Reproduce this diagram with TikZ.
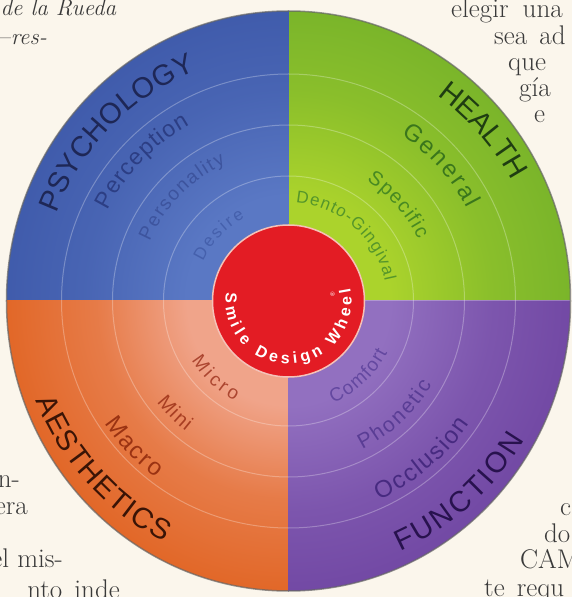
\documentclass[tikz,border=0pt]{standalone}
\usepackage{fontspec}
\setsansfont{Liberation Sans}
\usetikzlibrary{decorations.text}

\definecolor{paper}{HTML}{FBF6EC}
\definecolor{ink}{HTML}{3A3A3A}
\definecolor{bluein}{HTML}{5A78C4}
\definecolor{blueout}{HTML}{3A55A6}
\definecolor{greenin}{HTML}{ABD32C}
\definecolor{greenout}{HTML}{6FAE2A}
\definecolor{orangein}{HTML}{F0A48A}
\definecolor{orangeout}{HTML}{E0601C}
\definecolor{purplein}{HTML}{9270C0}
\definecolor{purpleout}{HTML}{6B409E}
\colorlet{bluemid}{bluein!45!blueout}
\colorlet{greenmid}{greenin!45!greenout}
\colorlet{orangemid}{orangein!40!orangeout}
\colorlet{purplemid}{purplein!45!purpleout}
\definecolor{hubred}{HTML}{E31C24}
\definecolor{hubrim}{HTML}{F5C2B8}
\definecolor{psyink}{HTML}{1E2756}
\definecolor{percink}{HTML}{2C3E84}
\definecolor{persink}{HTML}{3D549E}
\definecolor{desink}{HTML}{4560AC}
\definecolor{healthink}{HTML}{1F3D12}
\definecolor{genink}{HTML}{3A761C}
\definecolor{specink}{HTML}{488A22}
\definecolor{dentoink}{HTML}{55962A}
\definecolor{aesink}{HTML}{3A1406}
\definecolor{macroink}{HTML}{9A3212}
\definecolor{miniink}{HTML}{A83E22}
\definecolor{microink}{HTML}{AC4630}
\definecolor{funcink}{HTML}{28124E}
\definecolor{occink}{HTML}{472A80}
\definecolor{phonink}{HTML}{5A3D95}
\definecolor{comfink}{HTML}{6448A0}

\pgfdeclareradialshading{bluewheel}{\pgfpointorigin}{color(0bp)=(bluein); color(9bp)=(bluein); color(18bp)=(bluemid); color(30bp)=(blueout); color(50bp)=(blueout)}
\pgfdeclareradialshading{greenwheel}{\pgfpointorigin}{color(0bp)=(greenin); color(9bp)=(greenin); color(18bp)=(greenmid); color(30bp)=(greenout); color(50bp)=(greenout)}
\pgfdeclareradialshading{orangewheel}{\pgfpointorigin}{color(0bp)=(orangein); color(9bp)=(orangein); color(17bp)=(orangemid); color(28bp)=(orangeout); color(50bp)=(orangeout)}
\pgfdeclareradialshading{purplewheel}{\pgfpointorigin}{color(0bp)=(purplein); color(9bp)=(purplein); color(18bp)=(purplemid); color(30bp)=(purpleout); color(50bp)=(purpleout)}

\tikzset{
	ring/.style={draw=white, draw opacity=0.28, line width=1pt},
	pagetext/.style={inner sep=0pt, text=ink, font=\rmfamily\fontsize{27}{29}\selectfont},
	pageital/.style={pagetext, font=\rmfamily\itshape\fontsize{23}{26}\selectfont},
}
\newcommand\wfont[1]{\sffamily\fontsize{#1}{#1}\selectfont}
\newcommand\wheellabel[6]{%
	\path[decorate, decoration={text along path, text align=fit to path, text color=#4,
		text={|\wfont{#5}|#6}}] (#2:#1) arc[start angle=#2, end angle=#3, radius=#1];}

\begin{document}
\begin{tikzpicture}[x=1pt, y=1pt]
	\fill[paper] (-288.5,-296) rectangle (283.5,301);
	\useasboundingbox (-288.5,-296) rectangle (283.5,301);
	\node[pageital, anchor=base west] (rueda) at (-288,285) {de la Rueda};
	\node[pageital, anchor=base east] (res) at (-241.5,256) {---res-};
	\node[pagetext, anchor=base west] (elegir) at (162.5,283) {elegir\hspace{6pt} una};
	\node[pagetext, anchor=base west] (seaad) at (205.5,256) {sea\hspace{4pt} ad};
	\node[pagetext, anchor=base west] (que) at (219.5,230) {que};
	\node[pagetext, anchor=base west] (gia) at (230.5,204) {gía};
	\node[pagetext, anchor=base west] (elast) at (245.5,178) {e};
	\node[pagetext, anchor=base east] (nhyph) at (-268.5,-186) {n-};
	\node[pagetext, anchor=base east] (era) at (-260.5,-213) {era};
	\node[pagetext, anchor=base east] (elmis) at (-225.5,-266) {el mis-};
	\node[pagetext, anchor=base east] (inde) at (-168.5,-297) {nto\hspace{4pt} inde};
	\node[pagetext, anchor=base west] (cword) at (271.5,-214) {c};
	\node[pagetext, anchor=base west] (doword) at (255.5,-241) {do};
	\node[pagetext, anchor=base west] (cam) at (231.5,-267) {CAM};
	\node[pagetext, anchor=base west] (requ) at (195.5,-295) {te\hspace{4pt} requ};
	\foreach \shname/\sx/\sy in {greenwheel/1/1, bluewheel/-1/1, orangewheel/-1/-1, purplewheel/1/-1} {
		\begin{scope}
			\clip (0,0) rectangle (300*\sx,300*\sy);
			\shade[shading=\shname] (0,0) ellipse[x radius=282, y radius=290];
		\end{scope}
	}
	\foreach \r in {125,176,227}
		\draw[ring] (0,0) circle[radius=\r];
	\draw[ring] (0,0) -- (282,0);
	\draw[black!60, draw opacity=0.7, line width=1.5pt] (0,0) ellipse[x radius=282, y radius=290];
	\fill[hubred] (0,0) circle[radius=76];
	\draw[hubrim, line width=1.5pt] (0,0) circle[radius=76];
	\wheellabel{248}{159.4}{111.9}{psyink}{29}{PSYCHOLOGY}
	\wheellabel{202}{153.3}{119.3}{percink}{23}{Perception}
	\wheellabel{151}{156.7}{114.6}{persink}{19}{Personality}
	\wheellabel{94}{155.3}{117.7}{desink}{17}{Desire}
	\wheellabel{253.5}{54.1}{28.4}{healthink}{29}{HEALTH}
	\wheellabel{201}{56}{27.4}{genink}{24}{General}
	\wheellabel{143.5}{57}{25.4}{specink}{20}{Specific}
	\wheellabel{98.5}{85.7}{11.5}{dentoink}{17}{Dento-Gingival}
	\wheellabel{271.5}{201.5}{242.7}{aesink}{29}{AESTHETICS}
	\wheellabel{221}{213.7}{233}{macroink}{24}{Macro}
	\wheellabel{166}{217.5}{231.8}{miniink}{20}{Mini}
	\wheellabel{113.5}{211.3}{241.7}{microink}{19}{Micro}
	\wheellabel{274}{294}{329.5}{funcink}{29}{FUNCTION}
	\wheellabel{218.5}{294.5}{325.9}{occink}{24}{Occlusion}
	\wheellabel{166}{296.4}{329.8}{phonink}{21}{Phonetic}
	\wheellabel{111.6}{293.6}{332.3}{comfink}{19}{Comfort}
	\path[decorate, decoration={text along path, text align=fit to path, text color=white,
		text={|\sffamily\bfseries\fontsize{16}{16}\selectfont|Smile Design Wheel}}] (172.5:63) arc[start angle=172.5, end angle=372, radius=63];
	\node[text=white, inner sep=0pt, font=\sffamily\fontsize{6}{6}\selectfont, rotate=90] (regmark) at (44,7) {\textregistered};
\end{tikzpicture}
\end{document}
